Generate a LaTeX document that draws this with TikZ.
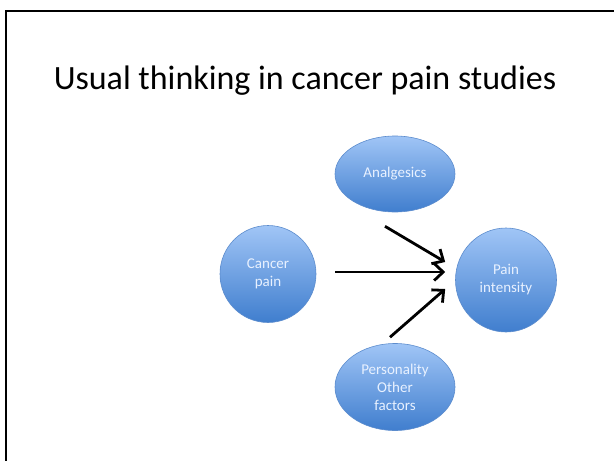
\documentclass[tikz,border=0pt]{standalone}
\usepackage{fontspec}
\setmainfont{Carlito}
\usetikzlibrary{positioning,shapes.geometric,arrows.meta,calc}
\definecolor{blobtop}{RGB}{160,197,246}
\definecolor{blobbottom}{RGB}{64,126,206}
\definecolor{blobedge}{RGB}{92,140,205}
\definecolor{blobtext}{RGB}{232,241,255}
\tikzset{%
	blob/.style={%
		ellipse,
		draw=blobedge,
		line width=0.6pt,
		top color=blobtop,
		bottom color=blobbottom,
		text=blobtext,
		align=center,
		inner sep=0pt,
		font=\fontsize{15}{18}\selectfont
	},
	link/.style={%
		line width=2.8pt,
		-{Straight Barb[length=9pt,width=17pt]}
	}
}

\begin{document}
\begin{tikzpicture}[x=1pt, y=-1pt]
	\useasboundingbox (0,0) rectangle (614,461);
	\draw[line width=2.4pt] (6,470) -- (6,11) -- (620,11);
	\node[font=\fontsize{34}{40}\selectfont] (title) at (305,81) {Usual thinking in cancer pain studies};
	\node[blob, minimum width=120, minimum height=76] (ana) at (395,174) {Analgesics};
	\node[blob, minimum width=96, minimum height=97] (cancer) at (268,274) {Cancer\\pain};
	\node[blob, minimum width=101, minimum height=104] (pain) at (506,280) {Pain\\intensity};
	\node[blob, minimum width=120, minimum height=87] (pers) at (395,387) {Personality\\Other\\factors};
	\draw[link] ($(ana.south)+(-10,14)$) -- ($(pain.west)+(-10,-18)$);
	\draw[link] ($(cancer.east)+(19,-2)$) -- ($(pain.west)+(-10,-8)$);
	\draw[link] ($(pers.north)+(-5,-6)$) -- ($(pain.west)+(-10,9)$);
\end{tikzpicture}
\end{document}
